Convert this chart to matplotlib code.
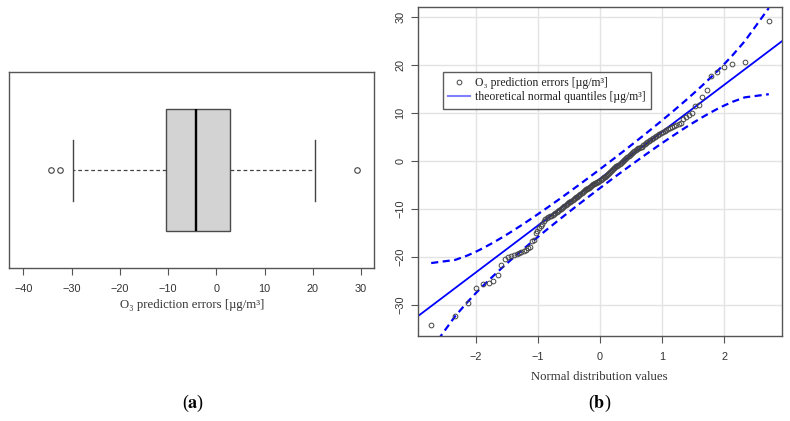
import numpy as np
import matplotlib
matplotlib.use("Agg")
import matplotlib.pyplot as plt
from matplotlib.lines import Line2D
from statistics import NormalDist

# ---------------- data ----------------
# sorted O3 prediction errors [µg/m³] (read off the QQ plot / box plot)
errors = [
    -34.2, -32.4, -29.6, -26.5, -25.8, -25.6, -25.0, -23.8, -21.8, -20.6,
    -20.1, -19.9, -19.6, -19.4, -19.2, -19.0, -18.8, -18.6, -18.3, -18.1,
    -16.8, -16.5, -15.1, -14.6, -14.0, -13.6, -13.1, -12.6, -12.2, -12.0,
    -11.8, -11.6, -11.5, -11.3, -11.1, -10.9, -10.6, -10.4, -10.2, -10.1,
    -9.9, -9.7, -9.5, -9.3, -9.1, -8.9, -8.7, -8.6, -8.4, -8.2,
    -8.0, -7.8, -7.6, -7.5, -7.3, -7.1, -6.9, -6.8, -6.6, -6.4,
    -6.2, -6.0, -5.9, -5.7, -5.6, -5.4, -5.2, -5.1, -4.9, -4.8,
    -4.7, -4.6, -4.5, -4.4, -4.3, -4.1, -3.9, -3.7, -3.5, -3.3,
    -3.1, -2.9, -2.7, -2.6, -2.4, -2.2, -2.0, -1.8, -1.6, -1.4,
    -1.2, -1.0, -0.8, -0.6, -0.4, -0.2, 0.0, 0.2, 0.4, 0.6,
    0.8, 1.0, 1.2, 1.4, 1.6, 1.8, 2.0, 2.2, 2.4, 2.6,
    2.7, 2.8, 2.9, 3.2, 3.4, 3.6, 3.8, 4.1, 4.4, 4.6,
    4.8, 5.0, 5.2, 5.4, 5.6, 5.8, 6.0, 6.2, 6.4, 6.6,
    6.8, 7.0, 7.2, 7.4, 7.6, 7.8, 8.6, 9.1, 9.6, 9.9,
    11.4, 11.6, 13.3, 14.7, 17.7, 18.5, 19.5, 20.2, 20.5, 29.1,
]
box_xticks = [-40, -30, -20, -10, 0, 10, 20, 30]
qq_xticks = [-2, -1, 0, 1, 2]
qq_yticks = [-30, -20, -10, 0, 10, 20, 30]
label_err = "O\u2083 prediction errors [\u00b5g/m\u00b3]"
label_theo = "theoretical normal quantiles [\u00b5g/m\u00b3]"
label_x_qq = "Normal distribution values"

# ---------------- style ----------------
SERIF = ["Liberation Serif", "DejaVu Serif"]
SANS = ["Liberation Sans", "DejaVu Sans"]
plt.rcParams["font.family"] = SANS
plt.rcParams["mathtext.fontset"] = "stix"
FRAME = "#555555"
TXT = "#333333"
TICK_FS = 7.8
LAB_FS = 9.2

fig = plt.figure(figsize=(7.90, 4.21), dpi=100)

# ---------------- (a) box plot ----------------
ax1 = fig.add_axes([9.3 / 790, 1 - 268.3 / 421, 365 / 790, 196 / 421])
ax1.boxplot(
    errors, vert=False, positions=[1], widths=0.674, whis=1.5,
    patch_artist=True,
    boxprops=dict(facecolor="#D3D3D3", edgecolor="#4a4a4a", linewidth=1.0),
    medianprops=dict(color="black", linewidth=1.7),
    whiskerprops=dict(color="#444444", linewidth=0.9, linestyle=(0, (3, 2.2))),
    capprops=dict(color="#444444", linewidth=1.0),
    flierprops=dict(marker="o", markerfacecolor="none", markeredgecolor="#444444",
                    markersize=4, markeredgewidth=0.8),
)
ax1.set_xlim(-42.9, 32.76)
ax1.set_ylim(0.46, 1.54)
ax1.set_yticks([])
ax1.set_xticks(box_xticks)
ax1.set_xticklabels([str(t).replace("-", "\u2212") for t in box_xticks])
ax1.tick_params(axis="x", length=5, color=FRAME, labelsize=TICK_FS, labelcolor=TXT, pad=6)
for s in ax1.spines.values():
    s.set_color(FRAME)
    s.set_linewidth(1.0)
ax1.set_xlabel(label_err, fontfamily=SERIF, fontsize=LAB_FS, color=TXT, labelpad=4)

# ---------------- (b) QQ plot ----------------
ax2 = fig.add_axes([417.7 / 790, 1 - 335.7 / 421, 364 / 790, 328.4 / 421])
y = np.sort(np.asarray(errors, dtype=float))
n = len(y)
nd = NormalDist()
P = (np.arange(1, n + 1) - 0.5) / n
z = np.array([nd.inv_cdf(p) for p in P])
q1, q3 = np.quantile(y, [0.25, 0.75])
zq1, zq3 = nd.inv_cdf(0.25), nd.inv_cdf(0.75)
b = (q3 - q1) / (zq3 - zq1)
a = q1 - b * zq1
fit = a + b * z
dens = np.array([nd.pdf(v) for v in z])
se = (b / dens) * np.sqrt(P * (1 - P) / n)
zz = nd.inv_cdf(0.975)

ax2.set_xlim(-2.93, 2.92)
ax2.set_ylim(-36.5, 32.0)
ax2.set_xticks(qq_xticks)
ax2.set_yticks(qq_yticks)
ax2.set_xticklabels([str(t).replace("-", "\u2212") for t in qq_xticks])
ax2.set_yticklabels([str(t).replace("-", "\u2212") for t in qq_yticks],
                    rotation=90, va="center")
ax2.grid(True, color="#E3E3E3", linewidth=1.0)
ax2.set_axisbelow(True)
ax2.tick_params(axis="x", length=5, color=FRAME, labelsize=TICK_FS, labelcolor=TXT, pad=7)
ax2.tick_params(axis="y", length=5, color=FRAME, labelsize=TICK_FS, labelcolor=TXT, pad=4)
for s in ax2.spines.values():
    s.set_color(FRAME)
    s.set_linewidth(1.0)

xl = np.array(ax2.get_xlim())
ax2.plot(xl, a + b * xl, color="#0000FF", linewidth=1.3, zorder=2)
ax2.plot(z, fit + zz * se, color="#0000FF", linewidth=1.6, dashes=(3.2, 2.0), zorder=2)
ax2.plot(z, fit - zz * se, color="#0000FF", linewidth=1.6, dashes=(3.2, 2.0), zorder=2)
ax2.plot(z, y, linestyle="none", marker="o", markersize=3.4,
         markerfacecolor="none", markeredgecolor="#444444", markeredgewidth=0.7, zorder=3)
ax2.set_xlabel(label_x_qq, fontfamily=SERIF, fontsize=LAB_FS, color=TXT, labelpad=6)

handles = [
    Line2D([], [], linestyle="none", marker="o", markersize=3.4, markerfacecolor="none",
           markeredgecolor="#444444", markeredgewidth=0.7),
    Line2D([], [], color="#8080FF", linewidth=1.5),
]
leg = ax2.legend(handles, [label_err, label_theo], loc="upper left",
                 bbox_to_anchor=((443 - 417.7) / 364, (335.7 - 71.7) / 328.4),
                 prop={"family": SERIF, "size": 8.5}, frameon=True, fancybox=False,
                 borderpad=0.45, labelspacing=0.2, handlelength=1.8, handletextpad=0.5,
                 borderaxespad=0.0)
leg.get_frame().set_edgecolor("#333333")
leg.get_frame().set_linewidth(1.0)
for t in leg.get_texts():
    t.set_color("#222222")

# ---------------- panel labels ----------------
fig.text(193 / 790, 1 - 403 / 421, r"($\mathbf{a}$)", fontfamily=SERIF, fontsize=13,
         ha="center", va="center", color="black")
fig.text(600 / 790, 1 - 403 / 421, r"($\mathbf{b}$)", fontfamily=SERIF, fontsize=13,
         ha="center", va="center", color="black")

fig.savefig("out.png", dpi=100)
